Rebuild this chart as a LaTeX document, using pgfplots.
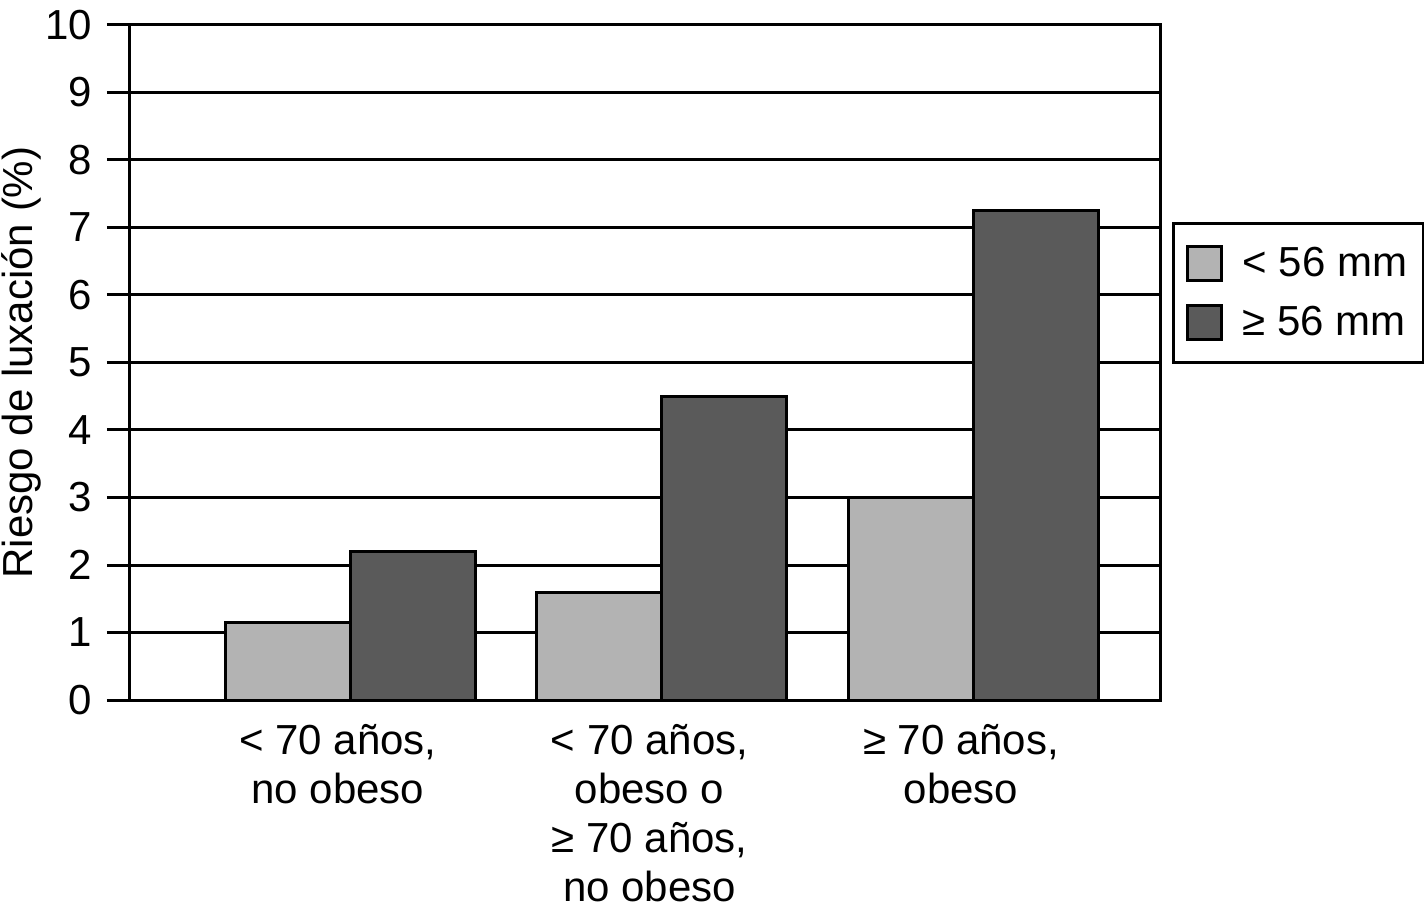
\documentclass[border=0pt]{standalone}
\usepackage{fontspec}
\setmainfont{Liberation Sans}
\usepackage{pgfplots}
\pgfplotsset{compat=1.18}
\definecolor{lightbar}{HTML}{B3B3B3}
\definecolor{darkbar}{HTML}{5A5A5A}
\newcommand\fs{\fontsize{21}{24.5}\selectfont}
\begin{document}
\begin{tikzpicture}
\useasboundingbox (-65pt,-105pt) rectangle (647pt,350pt);
\begin{axis}[
  at={(0,0)}, anchor=south west,
  scale only axis, width=515pt, height=337.5pt,
  xmin=0.2937, xmax=3.6003, ymin=0, ymax=10,
  ybar=0pt, bar width=62.5pt,
  xtick={1,2,3},
  xticklabels={{< 70 años,\\no obeso},{< 70 años,\\obeso o\\≥ 70 años,\\no obeso},{≥ 70 años,\\obeso}},
  xticklabel style={align=center, font=\fs, yshift=3pt, xshift=-6pt},
  xtick style={draw=none},
  ytick={0,1,...,10},
  ytick pos=left,
  tick align=outside,
  major tick length=11.5pt,
  major tick style={black, line width=1.5pt},
  yticklabel style={font=\fs, xshift=-4pt},
  /pgf/number format/assume math mode=true,
  ymajorgrids,
  major grid style={black, line width=1.5pt},
  axis line style={black, line width=1.5pt},
  ylabel={Riesgo de luxación (\%)},
  ylabel style={font=\fs, at={(axis description cs:-0.105,0.5)}, anchor=center},
  legend style={at={(axis description cs:1.0117,0.708)}, anchor=north west,
    draw=black, line width=1.5pt, font=\fs, inner xsep=6pt, inner ysep=10pt,
    row sep=9pt, cells={anchor=west}},
  every axis plot post/.append style={legend image code/.code={
    \draw[#1, line width=1.5pt] (0pt,-8.5pt) rectangle (17pt,8.5pt);}},
]
\addplot[fill=lightbar, draw=black, line width=1.5pt] coordinates {(1,1.15) (2,1.6) (3,3.0)};
\addplot[fill=darkbar, draw=black, line width=1.5pt] coordinates {(1,2.2) (2,4.5) (3,7.25)};
\legend{\hspace{8pt}< 56 mm, \hspace{8pt}≥ 56 mm}
\end{axis}
\end{tikzpicture}
\end{document}
